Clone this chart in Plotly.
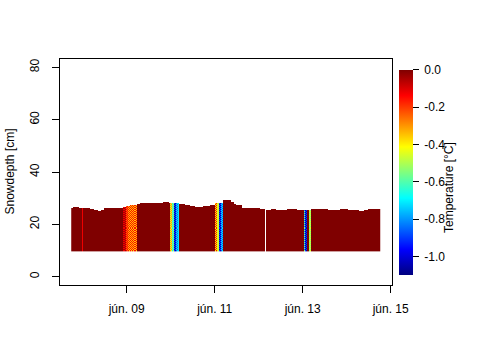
import numpy as np
import pandas as pd
import plotly.graph_objects as go

# ---- data ----
# snow depth (cm): value valid from each change time on
depth_times = [
    "2013-06-07 17:30", "2013-06-07 19:00", "2013-06-07 22:00", "2013-06-08 04:00",
    "2013-06-08 06:30", "2013-06-08 08:30", "2013-06-08 10:30", "2013-06-08 12:00",
    "2013-06-08 14:00", "2013-06-08 22:00", "2013-06-09 00:00", "2013-06-09 02:00",
    "2013-06-09 06:00", "2013-06-09 07:30", "2013-06-09 12:00", "2013-06-09 13:30",
    "2013-06-09 16:00", "2013-06-09 20:00", "2013-06-09 23:30", "2013-06-10 04:30",
    "2013-06-10 08:00", "2013-06-10 10:30", "2013-06-10 13:30", "2013-06-10 18:00",
    "2013-06-10 21:30", "2013-06-11 00:30", "2013-06-11 04:30", "2013-06-11 09:00",
    "2013-06-11 10:30", "2013-06-11 12:00", "2013-06-11 15:00", "2013-06-11 20:30",
    "2013-06-12 01:00", "2013-06-12 04:00", "2013-06-12 07:00", "2013-06-12 09:30",
    "2013-06-12 15:30", "2013-06-12 21:00", "2013-06-13 04:30", "2013-06-13 14:00",
    "2013-06-13 20:30", "2013-06-14 01:00", "2013-06-14 07:00", "2013-06-14 09:30",
    "2013-06-14 12:00",
]
depth_values = [
    26.3, 26.7, 26.2, 25.8,
    25.4, 25.1, 25.6, 26.2,
    26.5, 26.9, 27.2, 27.5,
    27.9, 28.3, 28.5, 28.3,
    28.5, 28.9, 28.5, 27.8,
    27.5, 27.1, 26.8, 27.1,
    27.5, 28.5, 29.3, 28.8,
    28.0, 27.5, 26.5, 26.3,
    26.0, 25.4, 25.8, 25.4,
    25.8, 25.4, 25.8, 25.4,
    25.8, 25.4, 25.1, 25.4,
    25.8,
]
missing_times = ["2013-06-12 03:30"]

# temperature episodes (deg C): start, end, two interleaved readings
anom_start = [
    "2013-06-08 00:00", "2013-06-08 22:00", "2013-06-09 00:00", "2013-06-09 01:00",
    "2013-06-09 23:45", "2013-06-10 00:45", "2013-06-10 02:00", "2013-06-10 03:00", "2013-06-10 04:00",
    "2013-06-11 00:30", "2013-06-11 01:15", "2013-06-11 02:30", "2013-06-11 03:15",
    "2013-06-13 01:00", "2013-06-13 01:30", "2013-06-13 03:15", "2013-06-13 04:15",
]
anom_end = [
    "2013-06-08 00:30", "2013-06-09 00:00", "2013-06-09 01:00", "2013-06-09 06:00",
    "2013-06-10 00:45", "2013-06-10 02:00", "2013-06-10 03:00", "2013-06-10 04:00", "2013-06-10 04:45",
    "2013-06-11 01:15", "2013-06-11 02:30", "2013-06-11 03:15", "2013-06-11 04:30",
    "2013-06-13 01:30", "2013-06-13 02:30", "2013-06-13 04:15", "2013-06-13 04:45",
]
anom_temp_a = [
    -0.12, -0.12, -0.14, -0.15,
    -0.3, -0.7, -0.9, -0.85, -0.72,
    -0.15, -0.5, -1.05, -0.72,
    -0.55, -1.05, -0.45, -0.15,
]
anom_temp_b = [
    -0.12, -0.04, -0.25, -0.35,
    -0.45, -0.5, -1.05, -0.72, -0.7,
    -0.4, -0.4, -0.9, -0.85,
    -0.85, -0.9, -0.55, -0.1,
]
base_temp = 0.0

x_tick_vals = ["2013-06-09", "2013-06-11", "2013-06-13", "2013-06-15"]
x_tick_text = ["jún. 09", "jún. 11", "jún. 13", "jún. 15"]
y_tick_vals = [0, 20, 40, 60, 80]
cb_tick_vals = [0.0, -0.2, -0.4, -0.6, -0.8, -1.0]
cb_tick_text = ["\u00a00.0", "\u00a0-0.2", "\u00a0-0.4", "\u00a0-0.6", "\u00a0-0.8", "\u00a0-1.0"]

# ---- grid ----
times = pd.date_range("2013-06-07 18:00", "2013-06-14 18:00", freq="30min")
levels = np.arange(9.7, 30.5, 0.4)

dt = pd.to_datetime(depth_times)
idx = np.searchsorted(dt.values, times.values, side="right") - 1
col_depth = np.array(depth_values)[idx]
miss = set(pd.to_datetime(missing_times))

z = np.full((len(levels), len(times)), np.nan)
for j, t in enumerate(times):
    if t in miss:
        continue
    for i, lv in enumerate(levels):
        if lv < col_depth[j]:
            z[i, j] = base_temp
    for s, e, ta, tb in zip(anom_start, anom_end, anom_temp_a, anom_temp_b):
        if pd.Timestamp(s) <= t < pd.Timestamp(e):
            for i, lv in enumerate(levels):
                if lv < col_depth[j]:
                    z[i, j] = ta if (i + j) % 2 == 0 else tb

jet = ["#00007F", "#0000FF", "#007FFF", "#00FFFF", "#7FFF7F",
       "#FFFF00", "#FF7F00", "#FF0000", "#7F0000"]
colorscale = [[k / 8, c] for k, c in enumerate(jet)]

fig = go.Figure(go.Heatmap(
    x=times, y=levels, z=z, zmin=-1.1, zmax=0.0, zsmooth=False,
    colorscale=colorscale, hoverinfo="skip",
    colorbar=dict(
        x=1.021, xanchor="left", xpad=0, ypad=0,
        y=0.498, yanchor="middle", len=205, lenmode="pixels",
        thickness=14, outlinewidth=0,
        ticks="outside", ticklen=6, tickcolor="black",
        tickvals=cb_tick_vals, ticktext=cb_tick_text,
        tickfont=dict(size=12, color="black"),
    ),
))

font = dict(family="Liberation Sans, Arial, sans-serif", size=12, color="black")
fig.update_layout(
    width=480, height=360,
    margin=dict(l=60, r=88, t=59, b=75, autoexpand=False),
    paper_bgcolor="white", plot_bgcolor="white",
    font=font, showlegend=False,
    xaxis=dict(
        range=["2013-06-07 11:37", "2013-06-15 00:43"],
        tickvals=x_tick_vals, ticktext=x_tick_text,
        showline=True, mirror=True, linecolor="black", linewidth=1,
        ticks="outside", ticklen=7, tickcolor="black",
        showgrid=False, zeroline=False, ticklabelstandoff=6,
    ),
    yaxis=dict(
        range=[-3.2, 83.2], tickvals=y_tick_vals, tickangle=-90,
        showline=True, mirror=True, linecolor="black", linewidth=1,
        ticks="outside", ticklen=7, tickcolor="black",
        showgrid=False, zeroline=False, ticklabelstandoff=8,
    ),
    annotations=[
        dict(text="Snowdepth [cm]", xref="paper", yref="paper",
             x=(9.5 - 60) / 332, y=0.5, textangle=-90, showarrow=False,
             xanchor="center", yanchor="middle", font=font),
        dict(text="Temperature [°C]", xref="paper", yref="paper",
             x=(449 - 60) / 332, y=(285 - 188) / 226, textangle=-90, showarrow=False,
             xanchor="center", yanchor="middle", font=font),
    ],
)

fig.write_html("out.html", config={"displayModeBar": False},
               post_script="document.body.style.margin='0px';")
